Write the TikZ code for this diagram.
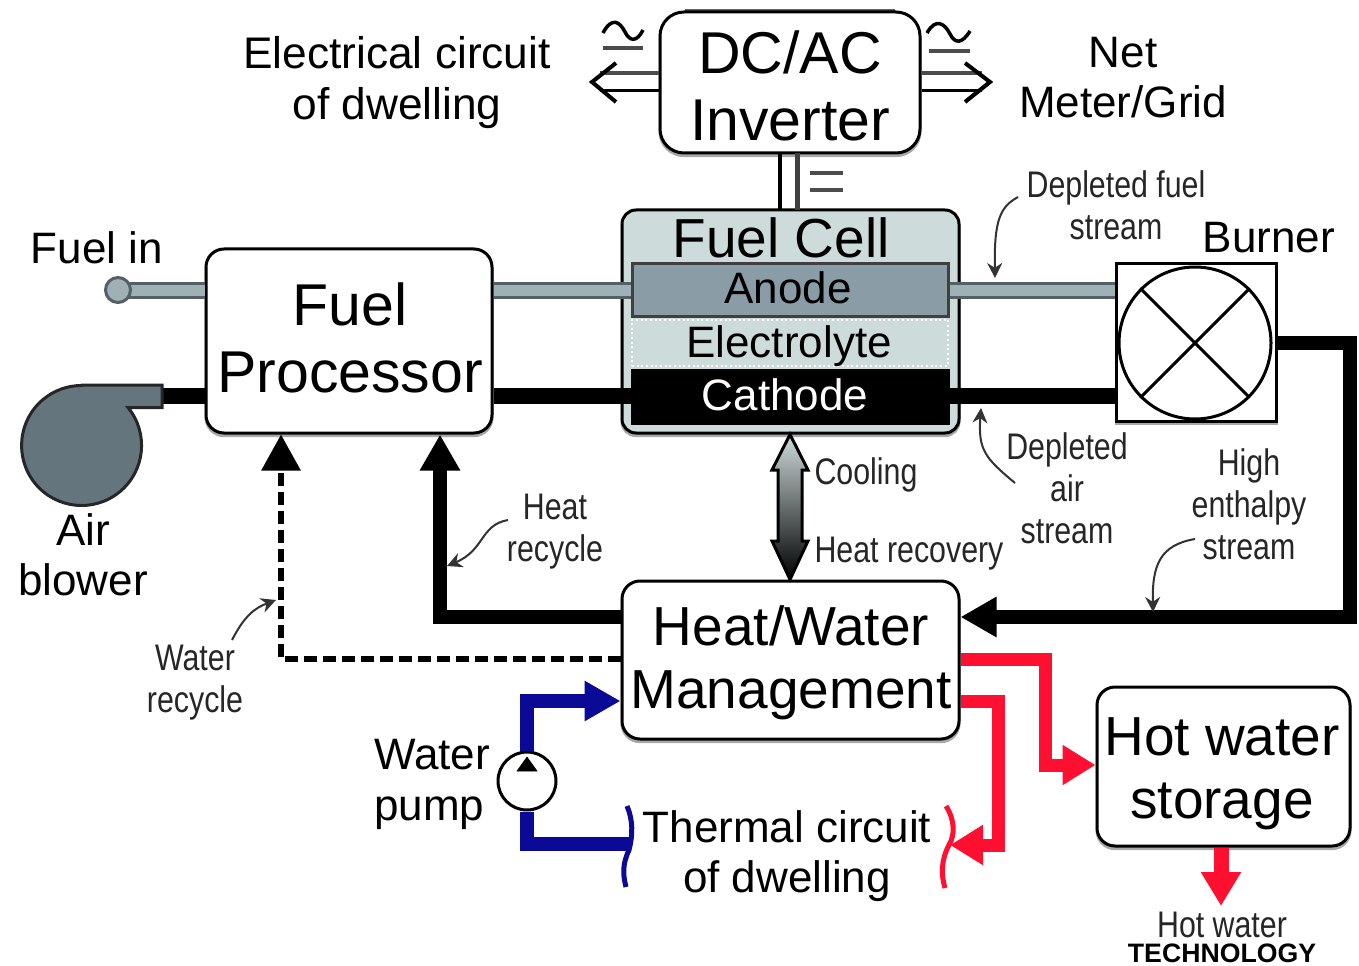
\documentclass[tikz,border=0pt]{standalone}
\usepackage{fontspec}
\setmainfont{Liberation Sans}
\newfontfamily\narrowf[FakeStretch=0.82]{Liberation Sans}
\usetikzlibrary{arrows.meta,calc}
\definecolor{cellfill}{HTML}{CEDBDB}
\definecolor{anodefill}{HTML}{8A9DA6}
\definecolor{blowerfill}{HTML}{64757D}
\definecolor{pipefill}{HTML}{9FB1B5}
\definecolor{pipeedge}{HTML}{555F66}
\definecolor{shadowc}{HTML}{A8A8A8}
\definecolor{wblue}{HTML}{0A0A96}
\definecolor{hred}{HTML}{FF1030}
\tikzset{
  box/.style={draw=black,line width=3*0.75pt,fill=white,rounded corners=#1*0.75pt,inner sep=0pt,
    preaction={draw=shadowc,line width=3*0.75pt,transform canvas={yshift=-2pt}}},
  layerbox/.style={draw=black!75,line width=3*0.75pt,inner sep=0pt},
  big/.style={font=\fontsize{44.25}{50.25}\selectfont,align=center,inner sep=0pt},
  mid/.style={font=\fontsize{41.25}{47.25}\selectfont,align=center,inner sep=0pt},
  lab/.style={font=\fontsize{33}{38}\selectfont,align=center,inner sep=0pt},
  small/.style={font=\fontsize{27.75}{31.5}\narrowf\selectfont,align=center,inner sep=0pt,text=black!85},
  pipe/.style={draw=pipeedge,line width=3*0.75pt,double=pipefill,double distance=11*0.75pt},
  thick line/.style={draw=black,line width=14*0.75pt},
  hdcap/.style={-{Triangle[width=38*0.75pt,length=36*0.75pt]}},
  blueline/.style={draw=wblue,line width=14*0.75pt},
  redline/.style={draw=hred,line width=13*0.75pt},
  callout/.style={draw=black!80,line width=2*0.75pt,-{Stealth[width=15*0.75pt,length=15*0.75pt]}},
  wire/.style={draw=black,line width=3*0.75pt},
  graywire/.style={draw=black!70,line width=4*0.75pt},
}
\begin{document}
\begin{tikzpicture}[x=0.75pt,y=-0.75pt]
\useasboundingbox[fill=white] (0,0) rectangle (1359,966);

% main blocks
\draw[draw=black!60,line width=4*0.75pt] (685,11) -- (895,11);
\node[box=24,minimum width=260*0.75pt,minimum height=141*0.75pt] (inv) at (790,82.5) {};
\node[box=14,fill=cellfill,minimum width=337*0.75pt,minimum height=223*0.75pt] (cell) at (790.5,321.5) {};
\node[box=18,minimum width=286*0.75pt,minimum height=184*0.75pt] (fp) at (349,341) {};
\node[box=18,minimum width=337*0.75pt,minimum height=158*0.75pt] (hw) at (790.5,660) {};
\node[box=18,minimum width=253*0.75pt,minimum height=159*0.75pt] (hws) at (1223.5,766.5) {};
\node[box=0,sharp corners,minimum width=160*0.75pt,minimum height=157*0.75pt] (burner) at (1196,342.5) {};

% reference heights of the ports
\coordinate (anodeY) at (0,290);
\coordinate (cathY) at (0,396);

% cell layers
\node[layerbox,fill=anodefill,minimum width=316*0.75pt,minimum height=52*0.75pt] (anode) at (790,290) {};
\node[inner sep=0pt,fill=cellfill,draw=white,dotted,line width=2*0.75pt,minimum width=316*0.75pt,minimum height=46*0.75pt] (elec) at (790,342.5) {};
\node[layerbox,draw=black,fill=black,minimum width=316*0.75pt,minimum height=53*0.75pt] (cath) at (790,396.5) {};

% fuel pipes
\draw[pipe] (fp.east |- anodeY) -- (anode.west |- anodeY);
\draw[pipe] (anode.east |- anodeY) -- (burner.west |- anodeY);
\coordinate (fuelin) at (118,290);
\draw[pipe] (fp.west |- anodeY) -- (fuelin);
\node[circle,draw=pipeedge,fill=pipefill,line width=3*0.75pt,minimum size=25*0.75pt,inner sep=0pt] (fuelend) at (fuelin) {};

% air line
\draw[draw=black,line width=16*0.75pt] (162,396) -- (fp.west |- cathY);
\draw[draw=black,line width=16*0.75pt] (fp.east |- cathY) -- (cath.west |- cathY);
\draw[draw=black,line width=16*0.75pt] (cath.east |- cathY) -- (burner.west |- cathY);

% blower
\filldraw[draw=black!85,fill=blowerfill,line width=3*0.75pt] (82,385)
  -- (162,385) -- (162,407.5) -- (128,407.5)
  arc[start angle=-39.3,end angle=270,x radius=60,y radius=60] -- cycle;
\coordinate (blowerout) at (162,396);

% burner symbol
\node[circle,draw=black,line width=3*0.75pt,minimum size=152*0.75pt,inner sep=0pt] (bc) at (1195,343) {};
\draw[wire] (bc.north west) -- (bc.south east);
\draw[wire] (bc.north east) -- (bc.south west);

% inverter links
\draw[draw=black,line width=4*0.75pt] (780,153) -- (780,210);
\draw[draw=black!75,line width=5*0.75pt] (797,153) -- (797,210);
\draw[graywire] (810,173) -- (843,173);
\draw[graywire] (810,190) -- (843,190);
\coordinate (lt) at (592,82);
\draw[graywire] (inv.west |- 0,73) -- (600,73);
\draw[wire] (inv.west |- 0,91) -- (600,91);
\draw[wire,line width=4*0.75pt] (616,63) -- (lt) -- (616,102);
\coordinate (rt) at (990,82);
\draw[graywire] (inv.east |- 0,73) -- (982,73);
\draw[wire] (inv.east |- 0,91) -- (982,91);
\draw[wire,line width=4*0.75pt] (965,63) -- (rt) -- (965,102);
% AC/DC signs
\draw[wire,line width=3.5*0.75pt] (603,33) .. controls (612,16) and (620,22) .. (625,32) .. controls (630,42) and (637,42) .. (643,30);
\draw[graywire] (603,48) -- (643,48);
\draw[wire,line width=3.5*0.75pt] (927,33) .. controls (936,17) and (945,24) .. (950,34) .. controls (955,44) and (962,44) .. (970,31);
\draw[graywire] (929,51) -- (970,51);

% thick streams
\draw[thick line,hdcap] (burner.east |- 0,343) -- (1350,343) -- (1350,617) -- (hw.east |- 0,617);
\draw[thick line,hdcap] (hw.west |- 0,617) -- (440,617) -- (fp.south -| 440,0);
\draw[line width=6*0.75pt,dash pattern=on 13*0.75pt off 6*0.75pt,
  -{Triangle[width=38*0.75pt,length=36*0.75pt]}] (hw.west |- 0,659) -- (281,659) -- (fp.south -| 281,0);

% cooling double arrow
\filldraw[draw=black,line width=3*0.75pt,top color=cellfill,middle color=black!70,bottom color=black]
  (cell.south -| 790,0) -- (808,470) -- (802,470) -- (802,541) -- (808,541) -- (hw.north -| 790,0)
  -- (772,541) -- (778,541) -- (778,470) -- (772,470) -- cycle;

% water circuit
\node[circle,draw=black,fill=white,line width=3*0.75pt,minimum size=58*0.75pt,inner sep=0pt] (pump) at (527,781) {};
\filldraw[black] (527,757) -- (537,771) -- (517,771) -- cycle;
\draw[blueline,hdcap] (pump.north) -- (527,701) -- (hw.west |- 0,701);
\coordinate (thermL) at (629,844);
\draw[blueline] (pump.south) -- (527,844) -- (thermL);
\draw[draw=wblue,line width=5*0.75pt] (627,806) .. controls (633,820) and (633,835) .. (629,850) .. controls (622,865) and (623,875) .. (626,887);

% hot circuit
\draw[redline,-{Triangle[width=38*0.75pt,length=33*0.75pt]}] (hw.east |- 0,659) -- (1045,659) -- (1045,765) -- (hws.west |- 0,765);
\coordinate (thermR) at (950,845);
\draw[redline,-{Triangle[width=38*0.75pt,length=33*0.75pt]}] (hw.east |- 0,701) -- (998,701) -- (998,845) -- (thermR);
\draw[draw=hred,line width=5*0.75pt] (946,806) .. controls (955,820) and (955,835) .. (949,845) .. controls (941,860) and (941,875) .. (945,888);
\coordinate (hwout) at (1221,906);
\draw[draw=hred,line width=15*0.75pt,-{Triangle[width=38*0.75pt,length=34*0.75pt]}] (hws.south -| 1221,0) -- (hwout);

% callouts
\draw[callout] (1018,197) .. controls (1000,207) and (994,220) .. (995,278);
\draw[callout] (1015,483) .. controls (985,458) and (978,450) .. (981,408);
\draw[callout] (1195,539) .. controls (1160,545) and (1152,565) .. (1153,612);
\draw[callout] (508,520) .. controls (480,525) and (485,550) .. (447,566);
\draw[callout] (232,640) .. controls (245,615) and (255,608) .. (276,600);

% labels
\node[lab,font=\fontsize{33.2}{38.25}\selectfont] (t1) at (397,83) {Electrical circuit\\of dwelling};
\node[big] (t2) at (790,86) {DC/AC\\Inverter};
\node[lab,font=\fontsize{33}{37.5}\selectfont] (t3) at (1123,78) {Net\\Meter/Grid};
\node[small] (t4) at (1116,205) {Depleted fuel\\stream};
\node[lab] (t5) at (1269,238) {Burner};
\node[mid] (t6) at (781,238) {Fuel Cell};
\node[lab] (t7) at (788,288) {Anode};
\node[lab] (t8) at (789,346) {Electrolyte};
\node[lab,text=white] (t9) at (785,395) {Cathode};
\node[lab] (t10) at (97,248) {Fuel in};
\node[big] (t11) at (350,338) {Fuel\\Processor};
\node[lab,font=\fontsize{33}{37.5}\selectfont] (t12) at (83,555) {Air\\blower};
\node[small] (t13) at (866,475) {Cooling};
\node[small] (t14) at (909,554) {Heat recovery};
\node[small] (t15) at (1067,488) {Depleted\\air\\stream};
\node[small] (t16) at (1249,504) {High\\enthalpy\\stream};
\node[small] (t17) at (555,532) {Heat\\recycle};
\node[small] (t18) at (195,683) {Water\\recycle};
\node[mid,font=\fontsize{41.25}{47.25}\selectfont] (t19) at (791,663) {Heat/Water\\Management};
\node[lab,align=left,font=\fontsize{33}{38.25}\selectfont] (t20) at (432,784) {Water\\pump};
\node[lab,font=\fontsize{33}{37.5}\selectfont] (t21) at (787,856) {Thermal circuit\\of dwelling};
\node[mid] (t22) at (1222,774) {Hot water\\storage};
\node[small] (t23) at (1222,925) {Hot water};
\node[inner sep=0pt,font=\fontsize{20}{24}\selectfont\bfseries] (t24) at (1222,953.5) {TECHNOLOGY};
\end{tikzpicture}
\end{document}
